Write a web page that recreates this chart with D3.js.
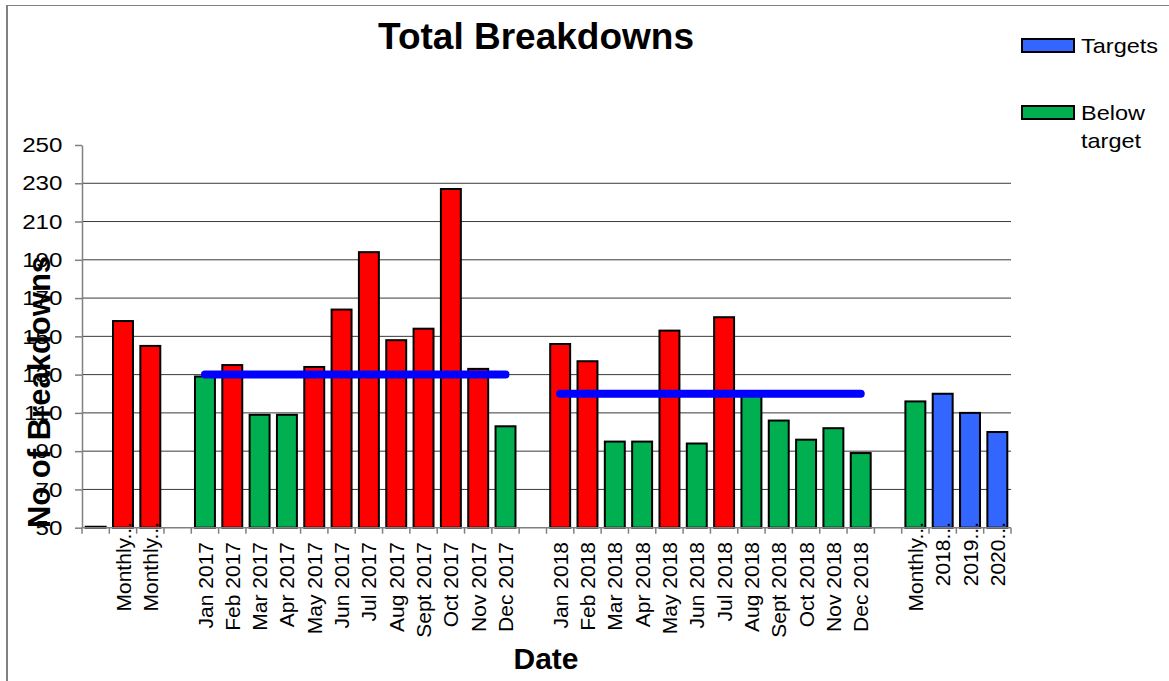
<!DOCTYPE html>
<html>
<head>
<meta charset="utf-8">
<script src="https://cdn.jsdelivr.net/npm/d3@7"></script>
<style>
  body { margin: 0; background: #fff; }
  svg { display: block; font-family: "Liberation Sans", Arial, sans-serif; }
</style>
</head>
<body>
<svg id="chart" width="1169" height="681"></svg>
<script>
const categories = [
  "", "Monthly...", "Monthly...", "",
  "Jan 2017", "Feb 2017", "Mar 2017", "Apr 2017", "May 2017", "Jun 2017",
  "Jul 2017", "Aug 2017", "Sept 2017", "Oct 2017", "Nov 2017", "Dec 2017",
  "",
  "Jan 2018", "Feb 2018", "Mar 2018", "Apr 2018", "May 2018", "Jun 2018",
  "Jul 2018", "Aug 2018", "Sept 2018", "Oct 2018", "Nov 2018", "Dec 2018",
  "",
  "Monthly...", "2018...", "2019...", "2020..."
]

const breakdowns = [
  50.5, 158, 145, null,
  129, 135, 109, 109, 134, 164, 194, 148, 154, 227, 133, 103,
  null,
  146, 137, 95, 95, 153, 94, 160, 119, 106, 96, 102, 89,
  null,
  116, 120, 110, 100
]

// above = over target (red), below = under target (green), target = target bar (blue)
const barStatus = [
  "above", "above", "above", null,
  "below", "above", "below", "below", "above", "above", "above", "above", "above", "above", "above", "below",
  null,
  "above", "above", "below", "below", "above", "below", "above", "below", "below", "below", "below", "below",
  null,
  "below", "target", "target", "target"
]

const months2017 = ["Jan 2017", "Feb 2017", "Mar 2017", "Apr 2017", "May 2017", "Jun 2017",
  "Jul 2017", "Aug 2017", "Sept 2017", "Oct 2017", "Nov 2017", "Dec 2017"]
const target2017 = [130, 130, 130, 130, 130, 130, 130, 130, 130, 130, 130, 130]

const months2018 = ["Jan 2018", "Feb 2018", "Mar 2018", "Apr 2018", "May 2018", "Jun 2018",
  "Jul 2018", "Aug 2018", "Sept 2018", "Oct 2018", "Nov 2018", "Dec 2018"]
const target2018 = [120, 120, 120, 120, 120, 120, 120, 120, 120, 120, 120, 120]

const yTicks = [50, 70, 90, 110, 130, 150, 170, 190, 210, 230, 250]

const legendItems = [
  { key: "target", lines: ["Targets"] },
  { key: "below", lines: ["Below", "target"] }
]

const colors = { above: "#FF0000", below: "#00B050", target: "#3366FF" }

const plotLeft = 82
const plotRight = 1011
const plotTop = 145
const plotBottom = 527.7

const svg = d3.select("#chart")

// outer frame (only left and top edges are visible in the picture)
svg.append("line")
  .attr("x1", 7).attr("x2", 7).attr("y1", 5).attr("y2", 681)
  .attr("stroke", "#808080").attr("stroke-width", 2)
svg.append("line")
  .attr("x1", 7).attr("x2", 1169).attr("y1", 5.5).attr("y2", 5.5)
  .attr("stroke", "#808080").attr("stroke-width", 1)

const x = d3.scaleBand()
  .domain(categories.map((d, i) => i))
  .range([plotLeft, plotRight])
  .paddingInner(0.27)
  .paddingOuter(0.135)

const y = d3.scaleLinear()
  .domain([50, 250])
  .range([plotBottom, plotTop])

// gridlines
svg.append("g")
  .attr("class", "grid")
  .selectAll("line")
  .data(yTicks.filter(d => d !== 50 && d !== 250))
  .join("line")
  .attr("x1", plotLeft)
  .attr("x2", plotRight)
  .attr("y1", d => y(d))
  .attr("y2", d => y(d))
  .attr("stroke", "#3a3a3a")
  .attr("stroke-width", 1)

// bars
const barData = breakdowns
  .map((v, i) => ({ i, v, status: barStatus[i] }))
  .filter(d => d.v !== null)

svg.append("g")
  .attr("class", "bars")
  .selectAll("rect")
  .data(barData)
  .join("rect")
  .attr("x", d => x(d.i))
  .attr("width", x.bandwidth())
  .attr("y", d => y(d.v))
  .attr("height", d => y(50) - y(d.v))
  .attr("fill", d => colors[d.status])
  .attr("stroke", "#000")
  .attr("stroke-width", 2)

// y axis
const yAxis = svg.append("g")
  .attr("transform", `translate(${plotLeft},0)`)
  .call(d3.axisLeft(y).tickValues(yTicks).tickSize(7).tickPadding(10).tickSizeOuter(0))

yAxis.select(".domain").attr("stroke", "#808080").attr("stroke-width", 1.5)
yAxis.selectAll(".tick line").attr("stroke", "#808080").attr("stroke-width", 1.5)
yAxis.selectAll(".tick text")
  .attr("font-size", 21)
  .attr("fill", "#000")
  .attr("font-family", "Liberation Sans, Arial, sans-serif")
  .attr("transform", "scale(1.15,1)")

// x axis line and ticks at category boundaries
const xAxis = svg.append("g").attr("class", "x-axis")
const boundaries = categories.map((d, i) => x(i) - (x.step() - x.bandwidth()) / 2)
boundaries.push(plotRight)

xAxis.append("line")
  .attr("x1", plotLeft)
  .attr("x2", plotRight)
  .attr("y1", plotBottom)
  .attr("y2", plotBottom)
  .attr("stroke", "#808080")
  .attr("stroke-width", 1.5)

xAxis.selectAll(".xtick")
  .data(boundaries)
  .join("line")
  .attr("class", "xtick")
  .attr("x1", d => d)
  .attr("x2", d => d)
  .attr("y1", plotBottom)
  .attr("y2", plotBottom + 6)
  .attr("stroke", "#808080")
  .attr("stroke-width", 1.5)

xAxis.selectAll(".xlabel")
  .data(categories.map((label, i) => ({ label, i })).filter(d => d.label !== ""))
  .join("text")
  .attr("class", "xlabel")
  .attr("transform", d => {
    const cx = x(d.i) + x.bandwidth() / 2
    const ty = d.label.endsWith("...") ? 522 : 542
    return `translate(${cx},${ty}) rotate(-90)`
  })
  .attr("text-anchor", "end")
  .attr("dy", "0.36em")
  .attr("font-size", 21)
  .text(d => d.label)

// target lines
const targetLine = d3.line()
  .x(d => x(categories.indexOf(d[0])) + x.bandwidth() / 2)
  .y(d => y(d[1]))

const targetSets = [
  d3.zip(months2017, target2017),
  d3.zip(months2018, target2018)
]

svg.append("g")
  .attr("class", "targets")
  .selectAll("path")
  .data(targetSets)
  .join("path")
  .attr("d", targetLine)
  .attr("fill", "none")
  .attr("stroke", "#0000FF")
  .attr("stroke-width", 8)
  .attr("stroke-linecap", "round")

// titles
svg.append("text")
  .attr("x", 536)
  .attr("y", 49)
  .attr("text-anchor", "middle")
  .attr("font-size", 37)
  .attr("font-weight", "bold")
  .text("Total Breakdowns")

svg.append("text")
  .attr("x", 546)
  .attr("y", 669)
  .attr("text-anchor", "middle")
  .attr("font-size", 30)
  .attr("font-weight", "bold")
  .text("Date")

svg.append("text")
  .attr("transform", "translate(50,392) rotate(-90)")
  .attr("text-anchor", "middle")
  .attr("font-size", 31)
  .attr("font-weight", "bold")
  .text("No of Breakdowns")

// legend
const legend = svg.append("g")
  .attr("class", "legend")
  .selectAll("g")
  .data(legendItems)
  .join("g")
  .attr("transform", (d, i) => `translate(1022,${39 + i * 67})`)

legend.append("rect")
  .attr("width", 52)
  .attr("height", 13)
  .attr("fill", d => colors[d.key])
  .attr("stroke", "#000")
  .attr("stroke-width", 2)

legend.each(function (d) {
  const g = d3.select(this)
  d.lines.forEach((line, k) => {
    g.append("text")
      .attr("transform", `translate(59,${14 + k * 28}) scale(1.12,1)`)
      .attr("font-size", 21)
      .text(line)
  })
})
</script>
</body>
</html>
